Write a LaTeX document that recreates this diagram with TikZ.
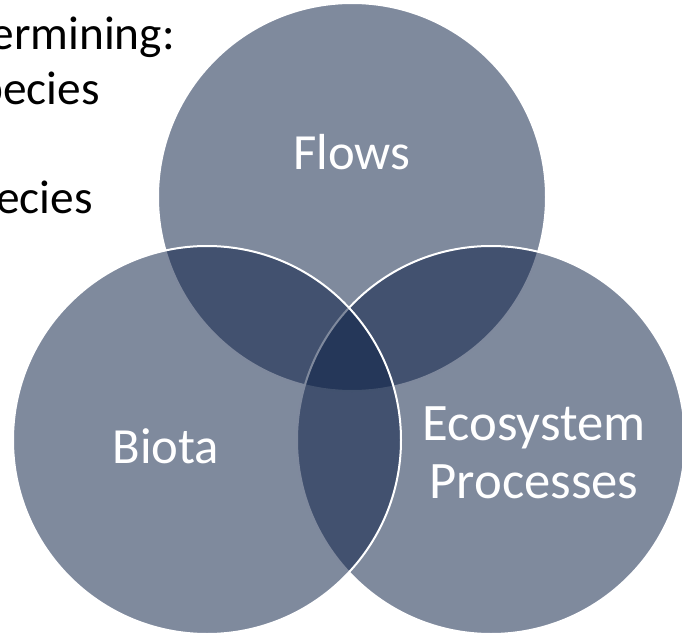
\documentclass[tikz,border=0pt]{standalone}
\usepackage{fontspec}
\setmainfont{Carlito}
\definecolor{navy}{RGB}{10,30,68}
\begin{document}
\begin{tikzpicture}[x=0.75pt,y=-0.75pt,
  venn/.style={circle,inner sep=0pt,minimum size=291pt,fill=navy,fill opacity=0.52,draw=white,line width=1.5pt},
  lbl/.style={text=white,font=\fontsize{38}{43.5}\selectfont,align=center,inner sep=0pt},
  side/.style={text=black,font=\fontsize{35.5}{40}\selectfont,anchor=base east,inner sep=0pt}]
\useasboundingbox (0,0) rectangle (682,635);
\clip (0,0) rectangle (682,635);
\node[side] (t1) at (175,50) {ermining:};
\node[side] (t2) at (100,104) {pecies};
\node[side] (t3) at (93,213) {ecies};
\node[venn] (flows) at (352,197) {};
\node[venn] (eco) at (491,440) {};
\node[venn] (biota) at (207,440) {};
\node[lbl,anchor=base] (lflows) at (352,169) {Flows};
\node[lbl,anchor=base] (lbiota) at (166,463) {Biota};
\node[lbl,font=\fontsize{39.5}{43.5}\selectfont] (leco) at (534,453) {Ecosystem\\Processes};
\end{tikzpicture}
\end{document}
